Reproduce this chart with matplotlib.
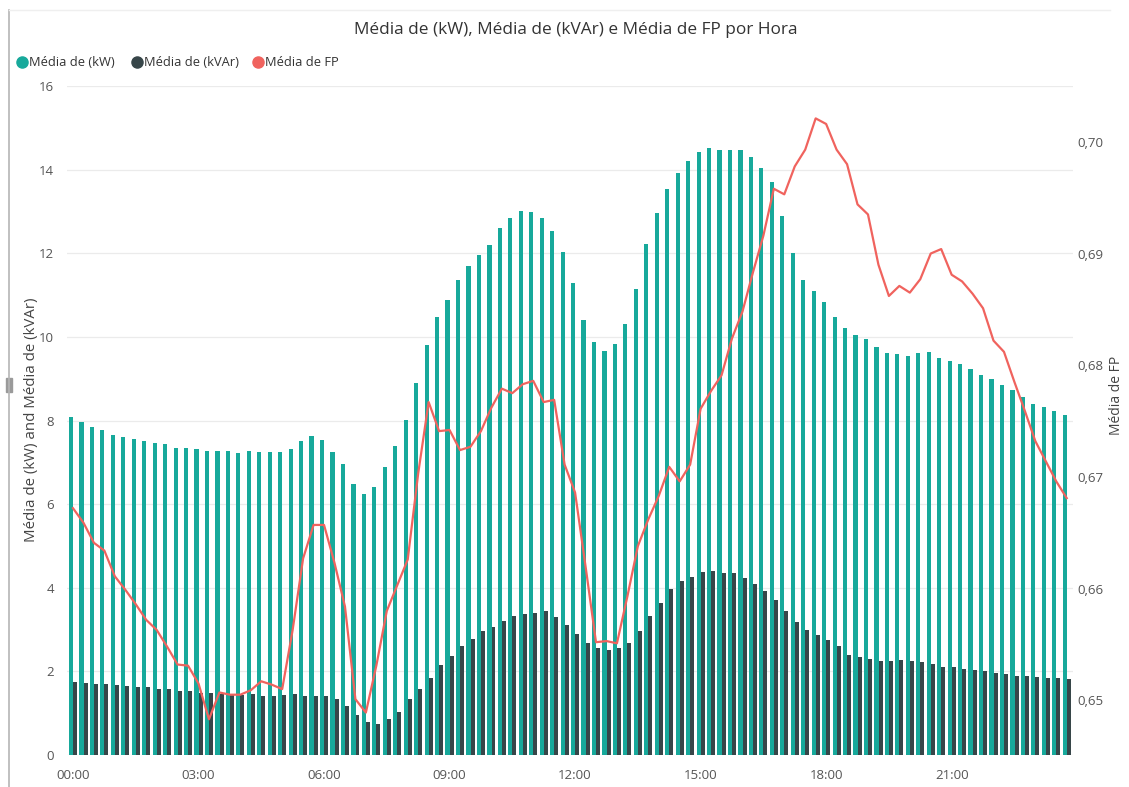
import matplotlib
matplotlib.use("Agg")
import matplotlib.pyplot as plt
from matplotlib.lines import Line2D
from matplotlib.ticker import FuncFormatter
import numpy as np

plt.rcParams['font.family'] = ['Open Sans', 'DejaVu Sans']

# 15-minute slots over the day
slots = [f"{h:02d}:{m:02d}" for h in range(24) for m in (0, 15, 30, 45)]

kw = [8.08, 7.97, 7.85, 7.78, 7.65, 7.60, 7.55, 7.50, 7.46, 7.44, 7.34, 7.34,
      7.33, 7.26, 7.26, 7.26, 7.23, 7.26, 7.24, 7.24, 7.24, 7.31, 7.52, 7.63,
      7.53, 7.24, 6.96, 6.48, 6.25, 6.42, 6.89, 7.39, 8.01, 8.90, 9.81, 10.48,
      10.89, 11.36, 11.70, 11.97, 12.20, 12.60, 12.85, 13.00, 12.99, 12.84, 12.53, 12.04,
      11.30, 10.41, 9.88, 9.67, 9.84, 10.30, 11.14, 12.22, 12.97, 13.53, 13.93, 14.20,
      14.41, 14.51, 14.47, 14.47, 14.47, 14.31, 14.05, 13.70, 12.90, 12.01, 11.37, 11.10,
      10.83, 10.48, 10.21, 10.04, 9.96, 9.76, 9.61, 9.58, 9.55, 9.61, 9.65, 9.49,
      9.43, 9.34, 9.22, 9.10, 9.00, 8.84, 8.72, 8.56, 8.40, 8.33, 8.22, 8.12]

kvar = [1.75, 1.73, 1.71, 1.70, 1.67, 1.66, 1.63, 1.63, 1.59, 1.58, 1.54, 1.52,
        1.48, 1.48, 1.45, 1.45, 1.43, 1.45, 1.42, 1.42, 1.43, 1.45, 1.41, 1.40,
        1.41, 1.33, 1.17, 0.95, 0.79, 0.74, 0.86, 1.04, 1.33, 1.58, 1.84, 2.15,
        2.37, 2.61, 2.77, 2.96, 3.07, 3.20, 3.32, 3.38, 3.40, 3.44, 3.29, 3.11,
        2.89, 2.68, 2.57, 2.52, 2.55, 2.67, 2.97, 3.33, 3.63, 3.96, 4.16, 4.26,
        4.38, 4.40, 4.36, 4.35, 4.23, 4.08, 3.92, 3.70, 3.45, 3.18, 3.00, 2.87,
        2.75, 2.60, 2.39, 2.35, 2.29, 2.24, 2.25, 2.28, 2.25, 2.23, 2.17, 2.11,
        2.11, 2.06, 2.03, 2.00, 1.97, 1.94, 1.90, 1.88, 1.86, 1.84, 1.83, 1.81]

fp = [0.6672, 0.6659, 0.6641, 0.6634, 0.6611, 0.6599, 0.6586, 0.6572, 0.6563, 0.6548, 0.6532, 0.6531,
      0.6515, 0.6483, 0.6507, 0.6505, 0.6505, 0.6509, 0.6517, 0.6514, 0.6510, 0.6563, 0.6627, 0.6657,
      0.6657, 0.6623, 0.6584, 0.6501, 0.6489, 0.6531, 0.6580, 0.6603, 0.6626, 0.6703, 0.6767, 0.6741,
      0.6742, 0.6724, 0.6727, 0.6741, 0.6762, 0.6779, 0.6775, 0.6783, 0.6786, 0.6767, 0.6769, 0.6711,
      0.6686, 0.6620, 0.6552, 0.6553, 0.6551, 0.6593, 0.6638, 0.6662, 0.6683, 0.6709, 0.6696, 0.6711,
      0.6761, 0.6777, 0.6791, 0.6824, 0.6848, 0.6883, 0.6916, 0.6958, 0.6953, 0.6978, 0.6993, 0.7021,
      0.7016, 0.6993, 0.6980, 0.6944, 0.6935, 0.6890, 0.6862, 0.6871, 0.6865, 0.6877, 0.6900, 0.6904,
      0.6881, 0.6875, 0.6864, 0.6851, 0.6822, 0.6812, 0.6785, 0.6759, 0.6732, 0.6714, 0.6696, 0.6681]

tick_every = 12
left_ticks = list(range(0, 17, 2))
right_ticks = [0.65, 0.66, 0.67, 0.68, 0.69, 0.70]

c_kw = '#17A99B'
c_kvar = '#374649'
c_fp = '#F0635E'
c_text = '#555555'

W, H = 1129, 787
fig = plt.figure(figsize=(W / 100, H / 100), dpi=100)
ax = fig.add_axes([66.7 / W, 1 - 755 / H, (1073 - 66.7) / W, (755 - 86) / H])

x = np.arange(len(slots))
ax.bar(x - 0.19, kw, width=0.40, color=c_kw, zorder=2, linewidth=0)
ax.bar(x + 0.20, kvar, width=0.38, color=c_kvar, zorder=3, linewidth=0)

ax.set_xlim(-0.6, len(slots) - 0.4)
ax.set_ylim(0, 16)
ax.set_yticks(left_ticks)
ax.set_yticklabels([str(v) for v in left_ticks])
ax.set_xticks(x[::tick_every])
ax.set_xticklabels(slots[::tick_every])
ax.grid(axis='y', color='#ebebeb', linewidth=0.9, zorder=0)
ax.set_axisbelow(True)
for s in ax.spines.values():
    s.set_visible(False)
ax.tick_params(axis='both', length=0, labelsize=9.5, colors=c_text)
ax.tick_params(axis='y', pad=9)
ax.tick_params(axis='x', pad=10)

ax2 = ax.twinx()
ax2.plot(x, fp, color=c_fp, linewidth=1.6, zorder=5)
ax2.set_ylim(0.6451, 0.7050)
ax2.set_yticks(right_ticks)
ax2.yaxis.set_major_formatter(FuncFormatter(lambda v, p: f"{v:.2f}".replace('.', ',')))
for s in ax2.spines.values():
    s.set_visible(False)
ax2.tick_params(axis='y', length=0, labelsize=9.5, colors=c_text, pad=3)

# axis titles
fig.text(32 / W, 1 - 420 / H, 'Média de (kW) and Média de (kVAr)', rotation=90,
         ha='center', va='center', fontsize=10.8, color='#444444')
fig.text(1117 / W, 1 - 395 / H, 'Média de FP', rotation=90,
         ha='center', va='center', fontsize=10, color='#444444')

fig.text(576 / W, 1 - 30 / H, 'Média de (kW), Média de (kVAr) e Média de FP por Hora',
         ha='center', va='center', fontsize=12.4, color='#333333')

# legend row
legend_items = [('Média de (kW)', c_kw, 22), ('Média de (kVAr)', c_kvar, 137), ('Média de FP', c_fp, 258)]
ly = 1 - 62 / H
for label, col, px in legend_items:
    fig.add_artist(Line2D([px / W], [ly], marker='o', markersize=8, color=col,
                          linestyle='none', transform=fig.transFigure))
    fig.text((px + 7) / W, ly, label, ha='left', va='center', fontsize=9.3, color='#333333')

# visual frame
fig.add_artist(Line2D([9 / W, 9 / W], [0, 1 - 10 / H], color='#b5b5b5', linewidth=1.2,
                      transform=fig.transFigure))
fig.add_artist(Line2D([9 / W, 1110 / W], [1 - 10 / H, 1 - 10 / H], color='#efefef', linewidth=1.0,
                      transform=fig.transFigure))
fig.add_artist(plt.Rectangle((6 / W, 1 - 392 / H), 6 / W, 14 / H, color='#9a9a9a',
                             transform=fig.transFigure))

fig.savefig('out.png', dpi=100, facecolor='white')
